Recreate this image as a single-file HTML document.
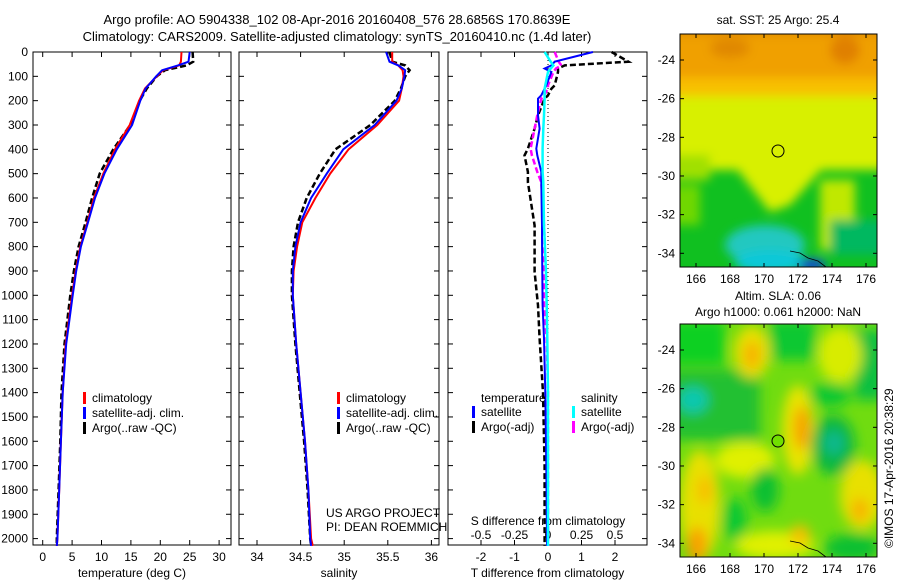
<!DOCTYPE html>
<html><head><meta charset="utf-8"><style>
body{margin:0;background:#fff;}
svg{display:block;font-family:"Liberation Sans",sans-serif;font-size:12px;}
</style></head><body>
<svg id="c" width="900" height="580" viewBox="0 0 900 580">
<defs>
<filter id="bl" x="-50%" y="-50%" width="200%" height="200%"><feGaussianBlur stdDeviation="5"/></filter>
<filter id="bl2" x="-50%" y="-50%" width="200%" height="200%"><feGaussianBlur stdDeviation="6"/></filter>
<clipPath id="m1"><rect x="680" y="34" width="197" height="233"/></clipPath>
<clipPath id="m2"><rect x="680" y="324" width="197" height="233"/></clipPath>
</defs>
<text x="337" y="24" text-anchor="middle" font-size="13">Argo profile: AO 5904338_102 08-Apr-2016 20160408_576 28.6856S 170.8639E</text>
<text x="337" y="41" text-anchor="middle" font-size="13">Climatology: CARS2009. Satellite-adjusted climatology: synTS_20160410.nc (1.4d later)</text>
<g id="plots"></g>

<g>
<text x="778" y="24" text-anchor="middle">sat. SST: 25 Argo: 25.4</text>
<g clip-path="url(#m1)">
<rect x="680" y="34" width="197" height="233" fill="#10c020"/>
<g filter="url(#bl)">
<rect x="660" y="20" width="240" height="150" fill="#d8f000"/>
<rect x="660" y="20" width="240" height="62" fill="#f0a000"/>
<rect x="660" y="20" width="240" height="15" fill="#e08800"/>
<ellipse cx="845" cy="50" rx="15" ry="14" fill="#e08000"/>
<ellipse cx="730" cy="48" rx="20" ry="10" fill="#e08800"/>
<rect x="660" y="78" width="240" height="18" fill="#f8c000"/>
<polygon points="730,160 830,160 790,205 770,212" fill="#d8f000"/>
<rect x="820" y="180" width="35" height="70" fill="#c0e800"/>
<rect x="660" y="155" width="50" height="25" fill="#a0e000"/>
<rect x="660" y="185" width="40" height="40" fill="#70d800"/>
<ellipse cx="765" cy="245" rx="40" ry="20" fill="#20c8c0"/>
<ellipse cx="770" cy="262" rx="35" ry="12" fill="#10c8d8"/>
<rect x="830" y="220" width="55" height="35" fill="#00b860"/>
<ellipse cx="812" cy="265" rx="14" ry="6" fill="#1040e0"/>
</g>
</g>
<rect x="680" y="34" width="197" height="233" fill="none" stroke="#000"/>
<circle cx="778" cy="151" r="6" fill="none" stroke="#000"/>
<polyline points="790,251 800,253 808,258 818,261 826,267" fill="none" stroke="#000" stroke-width="0.8"/>
<g id="ax1"></g>
</g>

<g>
<text x="778" y="300" text-anchor="middle">Altim. SLA: 0.06</text>
<text x="778" y="316" text-anchor="middle">Argo h1000: 0.061 h2000: NaN</text>
<g clip-path="url(#m2)">
<rect x="680" y="324" width="197" height="233" fill="#70dc10"/>
<g filter="url(#bl2)">
<rect x="670" y="370" width="90" height="70" fill="#20c030"/>
<ellipse cx="693" cy="400" rx="15" ry="13" fill="#10c8b0"/>
<rect x="670" y="320" width="55" height="45" fill="#10d020"/>
<rect x="770" y="320" width="45" height="40" fill="#10c830"/>
<rect x="855" y="330" width="30" height="70" fill="#10c040"/>
<ellipse cx="752" cy="352" rx="18" ry="26" fill="#e8e000"/>
<ellipse cx="752" cy="355" rx="8" ry="14" fill="#f8b000"/>
<ellipse cx="840" cy="355" rx="22" ry="28" fill="#d8ec00"/>
<ellipse cx="798" cy="430" rx="16" ry="45" fill="#e8e400"/>
<ellipse cx="802" cy="428" rx="8" ry="22" fill="#f8a000"/>
<ellipse cx="833" cy="445" rx="22" ry="30" fill="#10b840"/>
<ellipse cx="834" cy="443" rx="10" ry="12" fill="#10b890"/>
<ellipse cx="745" cy="460" rx="30" ry="18" fill="#e0f000"/>
<ellipse cx="700" cy="505" rx="20" ry="55" fill="#e8e000"/>
<ellipse cx="697" cy="545" rx="10" ry="18" fill="#f8a000"/>
<ellipse cx="705" cy="490" rx="8" ry="14" fill="#f8c000"/>
<ellipse cx="765" cy="490" rx="14" ry="22" fill="#10c030"/>
<ellipse cx="735" cy="520" rx="12" ry="22" fill="#10c830"/>
<ellipse cx="862" cy="495" rx="22" ry="35" fill="#e8e000"/>
<ellipse cx="860" cy="510" rx="8" ry="12" fill="#f8b000"/>
<ellipse cx="775" cy="545" rx="40" ry="14" fill="#e0f000"/>
<ellipse cx="800" cy="535" rx="10" ry="10" fill="#f8c000"/>
<ellipse cx="852" cy="548" rx="28" ry="14" fill="#10c030"/>
<ellipse cx="830" cy="395" rx="20" ry="12" fill="#10c830"/>
</g>
</g>
<rect x="680" y="324" width="197" height="233" fill="none" stroke="#000"/>
<circle cx="778" cy="441" r="6" fill="#70e000" stroke="#000"/>
<polyline points="790,541 800,543 808,548 818,551 826,557" fill="none" stroke="#000" stroke-width="0.8"/>
<g id="ax2"></g>
<text transform="translate(893,548) rotate(-90)" font-size="12">©IMOS 17-Apr-2016 20:38:29</text>
</g>
</svg>
<script>
var depths      = [0, 40, 55, 75, 100, 150, 200, 300, 400, 500, 600, 700, 800, 900, 1000, 1200, 1400, 1600, 1800, 2000, 2030];
var tempClim    = [23.6,23.5,23.2,20.5,19.4,17.4,16.4,14.8,12.3,10.3,8.7,7.6,6.4,5.6,5.0,3.9,3.4,3.1,2.8,2.5,2.4];
var tempSat     = [25.0,24.8,23.0,20.3,19.3,17.5,16.6,15.2,12.6,10.5,8.9,7.7,6.5,5.7,5.1,4.0,3.4,3.1,2.8,2.5,2.4];
var tempArgo    = [25.5,25.6,24.5,20.8,19.4,17.7,16.5,14.9,12.0,9.7,8.4,7.3,6.1,5.3,4.7,3.7,3.2,3.0,2.7,2.4,2.4];
var salClim     = [35.55,35.55,35.62,35.67,35.68,35.66,35.63,35.38,35.05,34.84,34.67,34.52,34.46,34.42,34.41,34.45,34.50,34.55,34.59,34.62,34.64];
var salSat      = [35.48,35.52,35.62,35.70,35.69,35.66,35.60,35.35,34.99,34.80,34.62,34.50,34.44,34.41,34.41,34.45,34.50,34.55,34.59,34.61,34.62];
var salArgo     = [35.52,35.55,35.70,35.75,35.70,35.65,35.58,35.30,34.90,34.72,34.57,34.47,34.42,34.40,34.40,34.44,34.49,34.54,34.58,34.61,34.62];
var diffDepths  = [0, 40, 55, 68, 82, 137, 151, 178, 192, 260, 315, 397, 425, 493, 535, 713, 767, 904, 1041, 1178, 1400, 1700, 2000, 2030];
var dTSat       = [1.34,0.2,0.1,-0.1,0.1,-0.05,-0.1,-0.2,-0.3,-0.3,-0.25,-0.35,-0.32,-0.2,-0.2,-0.18,-0.18,-0.17,-0.16,-0.12,-0.08,-0.05,-0.03,-0.03];
var dTArgo      = [1.9,2.4,0.5,0.3,0.3,0.2,0.1,0,-0.1,-0.3,-0.4,-0.6,-0.7,-0.6,-0.6,-0.4,-0.4,-0.4,-0.3,-0.25,-0.15,-0.1,-0.1,-0.1];
var dSSat       = [-0.025,0.02,0.04,0.02,0.0,-0.02,-0.025,-0.025,-0.025,-0.03,-0.035,-0.04,-0.04,-0.04,-0.035,-0.03,-0.025,-0.015,-0.01,-0.005,0,0,0,0];
var dSArgo      = [0.05,0.08,0.1,0.06,0.04,0.0,0,-0.03,-0.05,-0.08,-0.1,-0.13,-0.12,-0.08,-0.05,-0.03,-0.025,-0.03,-0.03,-0.01,0,0,0,0];
var depthTicks  = [0,100,200,300,400,500,600,700,800,900,1000,1100,1200,1300,1400,1500,1600,1700,1800,1900,2000];
var tTicks      = [0,5,10,15,20,25,30];
var sTicks      = [34,34.5,35,35.5,36];
var sTickLbl    = ["34","34.5","35","35.5","36"];
var dtTicks     = [-2,-1,0,1,2];
var dsTicks     = [-0.5,-0.25,0,0.25,0.5];
var lonTicks    = [166,168,170,172,174,176];
var latTicks    = [-24,-26,-28,-30,-32,-34];

var NS='http://www.w3.org/2000/svg';
function mk(parent,tag,attrs){var e=document.createElementNS(NS,tag);for(var k in attrs)e.setAttribute(k,attrs[k]);parent.appendChild(e);return e;}
var top0=52, bot=545;
function yD(d){return top0+d*0.2433;}
var plots=document.getElementById('plots');

function panel(name,x0,x1,xs,ticks,labels,xlabel){
  var g=mk(plots,'g',{});
  
  
  var r=mk(g,'rect',{x:x0,y:top0,width:x1-x0,height:bot-top0,fill:'none',stroke:'#000'});
  
  
  depthTicks.forEach(function(d){
    var y=yD(d);
    mk(g,'line',{x1:x0,x2:x0+5,y1:y,y2:y,stroke:'#000'});
    mk(g,'line',{x1:x1,x2:x1-5,y1:y,y2:y,stroke:'#000'});
  });
  if(ticks){ticks.forEach(function(v,i){
    var x=xs(v);
    mk(g,'line',{x1:x,x2:x,y1:bot,y2:bot-5,stroke:'#000'});
    mk(g,'line',{x1:x,x2:x,y1:top0,y2:top0+5,stroke:'#000'});
    var t=mk(g,'text',{x:x,y:bot+16,'text-anchor':'middle'});t.textContent=labels?labels[i]:v;
    
    
  });}
  if(xlabel){var t=mk(g,'text',{x:(x0+x1)/2,y:bot+32,'text-anchor':'middle'});t.textContent=xlabel;
    
    }
  return g;
}
function line(g,name,xs,vals,ds,color,dash,w){
  var p=vals.map(function(v,i){return xs(v).toFixed(1)+','+yD(ds[i]).toFixed(1);}).join(' ');
  var l=mk(g,'polyline',{points:p,fill:'none',stroke:color,'stroke-width':w||2});
  if(dash)l.setAttribute('stroke-dasharray',dash);
  
  
}
function legend(g,x,y,items){
  items.forEach(function(it,i){
    mk(g,'rect',{x:x,y:y+i*15-10,width:3,height:12,fill:it[1]});
    var t=mk(g,'text',{x:x+9,y:y+i*15});t.textContent=it[0];
    
    
  });
}
depthTicks.forEach(function(d){
  var t=mk(plots,'text',{x:28,y:yD(d)+4,'text-anchor':'end'});t.textContent=d;
  
  
});
var xT=function(v){return 42.7+v*5.88;};
var g1=panel('temperature-panel',33,231,xT,tTicks,null,'temperature (deg C)');
line(g1,'temp-argo-line',xT,tempArgo,depths,'#000','6,3',2.5);
line(g1,'temp-climatology-line',xT,tempClim,depths,'#f00',null,2);
line(g1,'temp-satellite-line',xT,tempSat,depths,'#00f',null,2);
legend(g1,83,402,[['climatology','#f00'],['satellite-adj. clim.','#00f'],['Argo(..raw -QC)','#000']]);
var xS=function(v){return 257+(v-34)*87.2;};
var g2=panel('salinity-panel',239,439,xS,sTicks,sTickLbl,'salinity');
line(g2,'sal-argo-line',xS,salArgo,depths,'#000','6,3',2.5);
line(g2,'sal-climatology-line',xS,salClim,depths,'#f00',null,2);
line(g2,'sal-satellite-line',xS,salSat,depths,'#00f',null,2);
legend(g2,337,402,[['climatology','#f00'],['satellite-adj. clim.','#00f'],['Argo(..raw -QC)','#000']]);
var t=mk(g2,'text',{x:326,y:517});t.textContent='US ARGO PROJECT';
var t2=mk(g2,'text',{x:326,y:531});t2.textContent='PI: DEAN ROEMMICH';
var xDT=function(v){return 548+v*33.5;};
var xDS=function(v){return 548+v*4*33.5;};
var g3=panel('difference-panel',448,647,xDT,dtTicks,null,'T difference from climatology');
mk(g3,'line',{x1:548,x2:548,y1:top0,y2:bot,stroke:'#000','stroke-dasharray':'1,3'});
dsTicks.forEach(function(v){var tt=mk(g3,'text',{x:xDS(v),y:bot-6,'text-anchor':'middle'});tt.textContent=v;
  
  });
var st=mk(g3,'text',{x:548,y:bot-20,'text-anchor':'middle'});st.textContent='S difference from climatology';
line(g3,'t-diff-argo-line',xDT,dTArgo,diffDepths,'#000','6,3',2.5);
line(g3,'s-diff-argo-line',xDS,dSArgo,diffDepths,'#f0f','6,3',2.5);
line(g3,'t-diff-satellite-line',xDT,dTSat,diffDepths,'#00f',null,2);
line(g3,'s-diff-satellite-line',xDS,dSSat,diffDepths,'#0ff',null,2.5);
var tl=mk(g3,'text',{x:481,y:402});tl.textContent='temperature';
var sl=mk(g3,'text',{x:581,y:402});sl.textContent='salinity';
legend(g3,472,416,[['satellite','#00f'],['Argo(-adj)','#000']]);
legend(g3,572,416,[['satellite','#0ff'],['Argo(-adj)','#f0f']]);
function mapAxes(id,y0,y1,lat24){
  var g=document.getElementById(id);
  lonTicks.forEach(function(v){var x=696+(v-166)*17;
    mk(g,'line',{x1:x,x2:x,y1:y1,y2:y1-4,stroke:'#000'});mk(g,'line',{x1:x,x2:x,y1:y0,y2:y0+4,stroke:'#000'});
    var tt=mk(g,'text',{x:x,y:y1+16,'text-anchor':'middle'});tt.textContent=v;
    
    });
  latTicks.forEach(function(v){var y=lat24+(-24-v)*19.33;
    mk(g,'line',{x1:680,x2:684,y1:y,y2:y,stroke:'#000'});mk(g,'line',{x1:877,x2:873,y1:y,y2:y,stroke:'#000'});
    var tt=mk(g,'text',{x:675,y:y+4,'text-anchor':'end'});tt.textContent=v;
    
    });
}
mapAxes('ax1',34,267,60);
mapAxes('ax2',324,557,350);
</script>
</body></html>
